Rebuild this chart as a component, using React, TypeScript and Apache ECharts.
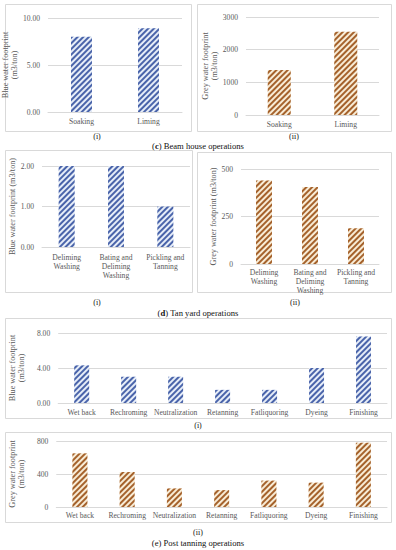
import React, { useEffect, useRef } from "react";
import * as echarts from "echarts";

const beamCats = ["Soaking", "Liming"];
const beamBlue = [8.0, 8.9];
const beamGrey = [1380, 2550];

const tanCats = ["Deliming\nWashing", "Bating and\nDeliming\nWashing", "Pickling and\nTanning"];
const tanBlue = [2.0, 2.0, 1.0];
const tanGrey = [440, 405, 188];

const postCats = ["Wet back", "Rechroming", "Neutralization", "Retanning", "Fatliquoring", "Dyeing", "Finishing"];
const postBlue = [4.3, 3.0, 3.0, 1.5, 1.5, 4.0, 7.6];
const postGrey = [650, 425, 225, 205, 320, 295, 780];

const FONT = "'Liberation Serif', 'Times New Roman', serif";
const GRAY = "#595959";
const GRID = "#d9d9d9";

const blueStyle = {
  color: "#e6edf8",
  decal: { symbol: "rect", symbolSize: 1, color: "#4a64aa", dashArrayX: [1, 0], dashArrayY: [2, 2], rotation: -Math.PI / 4 },
};
const greyStyle = {
  color: "#f8ecd6",
  decal: { symbol: "rect", symbolSize: 1, color: "#a5622c", dashArrayX: [1, 0], dashArrayY: [2, 2], rotation: -Math.PI / 4 },
};

export default function App() {
  const ref = useRef<HTMLDivElement>(null);
  useEffect(() => {
    document.body.style.margin = "0";
    const chart = echarts.init(ref.current!, null, { renderer: "svg" });
    const grids = [
      { left: 47, top: 18, width: 135, height: 94 },
      { left: 246, top: 17, width: 133, height: 98 },
      { left: 42, top: 166, width: 148, height: 81 },
      { left: 241, top: 169, width: 138, height: 95 },
      { left: 50, top: 333, width: 337, height: 70 },
      { left: 55, top: 441, width: 332, height: 66 },
    ];
    const cats = [beamCats, beamCats, tanCats, tanCats, postCats, postCats];
    const labelMargins = [5, 5, 6, 4, 5, 4];
    const xAxis = cats.map((c, i) => ({
      type: "category",
      gridIndex: i,
      data: c,
      axisLine: { lineStyle: { color: GRID } },
      axisTick: { show: false },
      axisLabel: { interval: 0, color: GRAY, fontFamily: FONT, fontSize: 7.6, lineHeight: 9, margin: labelMargins[i] },
    }));
    const yDefs = [
      { max: 10, interval: 5, dec: 2, name: "Blue water footprint\n(m3/ton)", gap: 22 },
      { max: 3000, interval: 1000, dec: 0, name: "Grey water footprint\n(m3/ton)", gap: 25 },
      { max: 2, interval: 1, dec: 2, name: "Blue water footprint (m3/ton)", gap: 25 },
      { max: 500, interval: 250, dec: 0, name: "Grey water footprint (m3/ton)", gap: 21 },
      { max: 8, interval: 4, dec: 2, name: "Blue water footprint\n(m3/ton)", gap: 21 },
      { max: 800, interval: 400, dec: 0, name: "Grey water footprint\n(m3/ton)", gap: 21 },
    ];
    const yAxis = yDefs.map((d, i) => ({
      type: "value",
      gridIndex: i,
      min: 0,
      max: d.max,
      interval: d.interval,
      name: d.name,
      nameLocation: "middle",
      nameRotate: 90,
      nameGap: d.gap,
      nameTextStyle: { color: GRAY, fontFamily: FONT, fontSize: 8.2, lineHeight: 9 },
      axisLine: { show: false },
      axisTick: { show: false },
      splitLine: { lineStyle: { color: GRID } },
      axisLabel: {
        color: GRAY,
        fontFamily: FONT,
        fontSize: 7.6,
        margin: 8,
        formatter: (v: number) => v.toFixed(d.dec),
      },
    }));
    const datas = [beamBlue, beamGrey, tanBlue, tanGrey, postBlue, postGrey];
    const widths = [21, 23, 16, 16, 15, 15];
    const series = datas.map((d, i) => ({
      type: "bar",
      xAxisIndex: i,
      yAxisIndex: i,
      data: d,
      barWidth: widths[i],
      itemStyle: i % 2 === 0 ? blueStyle : greyStyle,
    }));
    const box = (x: number, y: number, w: number, h: number) => ({
      type: "rect",
      shape: { x, y, width: w, height: h },
      style: { fill: "none", stroke: GRID, lineWidth: 1 },
      silent: true,
    });
    const txt = (x: number, y: number, text: string, size = 8, rich = false) => ({
      type: "text",
      x,
      y,
      style: {
        text,
        fill: "#111",
        font: `${size}px ${FONT}`,
        fontFamily: FONT,
        fontSize: size,
        align: "center",
        verticalAlign: "middle",
        ...(rich ? { rich: { b: { fontWeight: "bold", fontFamily: FONT, fontSize: size, fill: "#111" } } } : {}),
      },
      silent: true,
    });
    chart.setOption({
      animation: false,
      grid: grids.map((g) => ({ ...g, containLabel: false })),
      xAxis,
      yAxis,
      series,
      graphic: [
        box(5.5, 4.5, 186, 127),
        box(197.5, 4.5, 194, 127),
        box(5.5, 150.5, 187, 142),
        box(197.5, 152.5, 194, 140),
        box(5.5, 318.5, 386, 100),
        box(5.5, 432.5, 386, 90),
        txt(97, 136, "(i)"),
        txt(294, 136, "(ii)"),
        txt(198, 146, "({b|c}) Beam house operations", 8.6, true),
        txt(97, 302, "(i)"),
        txt(295, 302, "(ii)"),
        txt(198, 313, "({b|d}) Tan yard operations", 8.6, true),
        txt(198, 425, "(i)"),
        txt(198, 532, "(ii)"),
        txt(198, 543, "(e) Post tanning operations", 8.6),
      ],
    });
    return () => chart.dispose();
  }, []);
  return <div ref={ref} style={{ position: "absolute", left: 0, top: 0, width: 396, height: 550, background: "#fff" }} />;
}
